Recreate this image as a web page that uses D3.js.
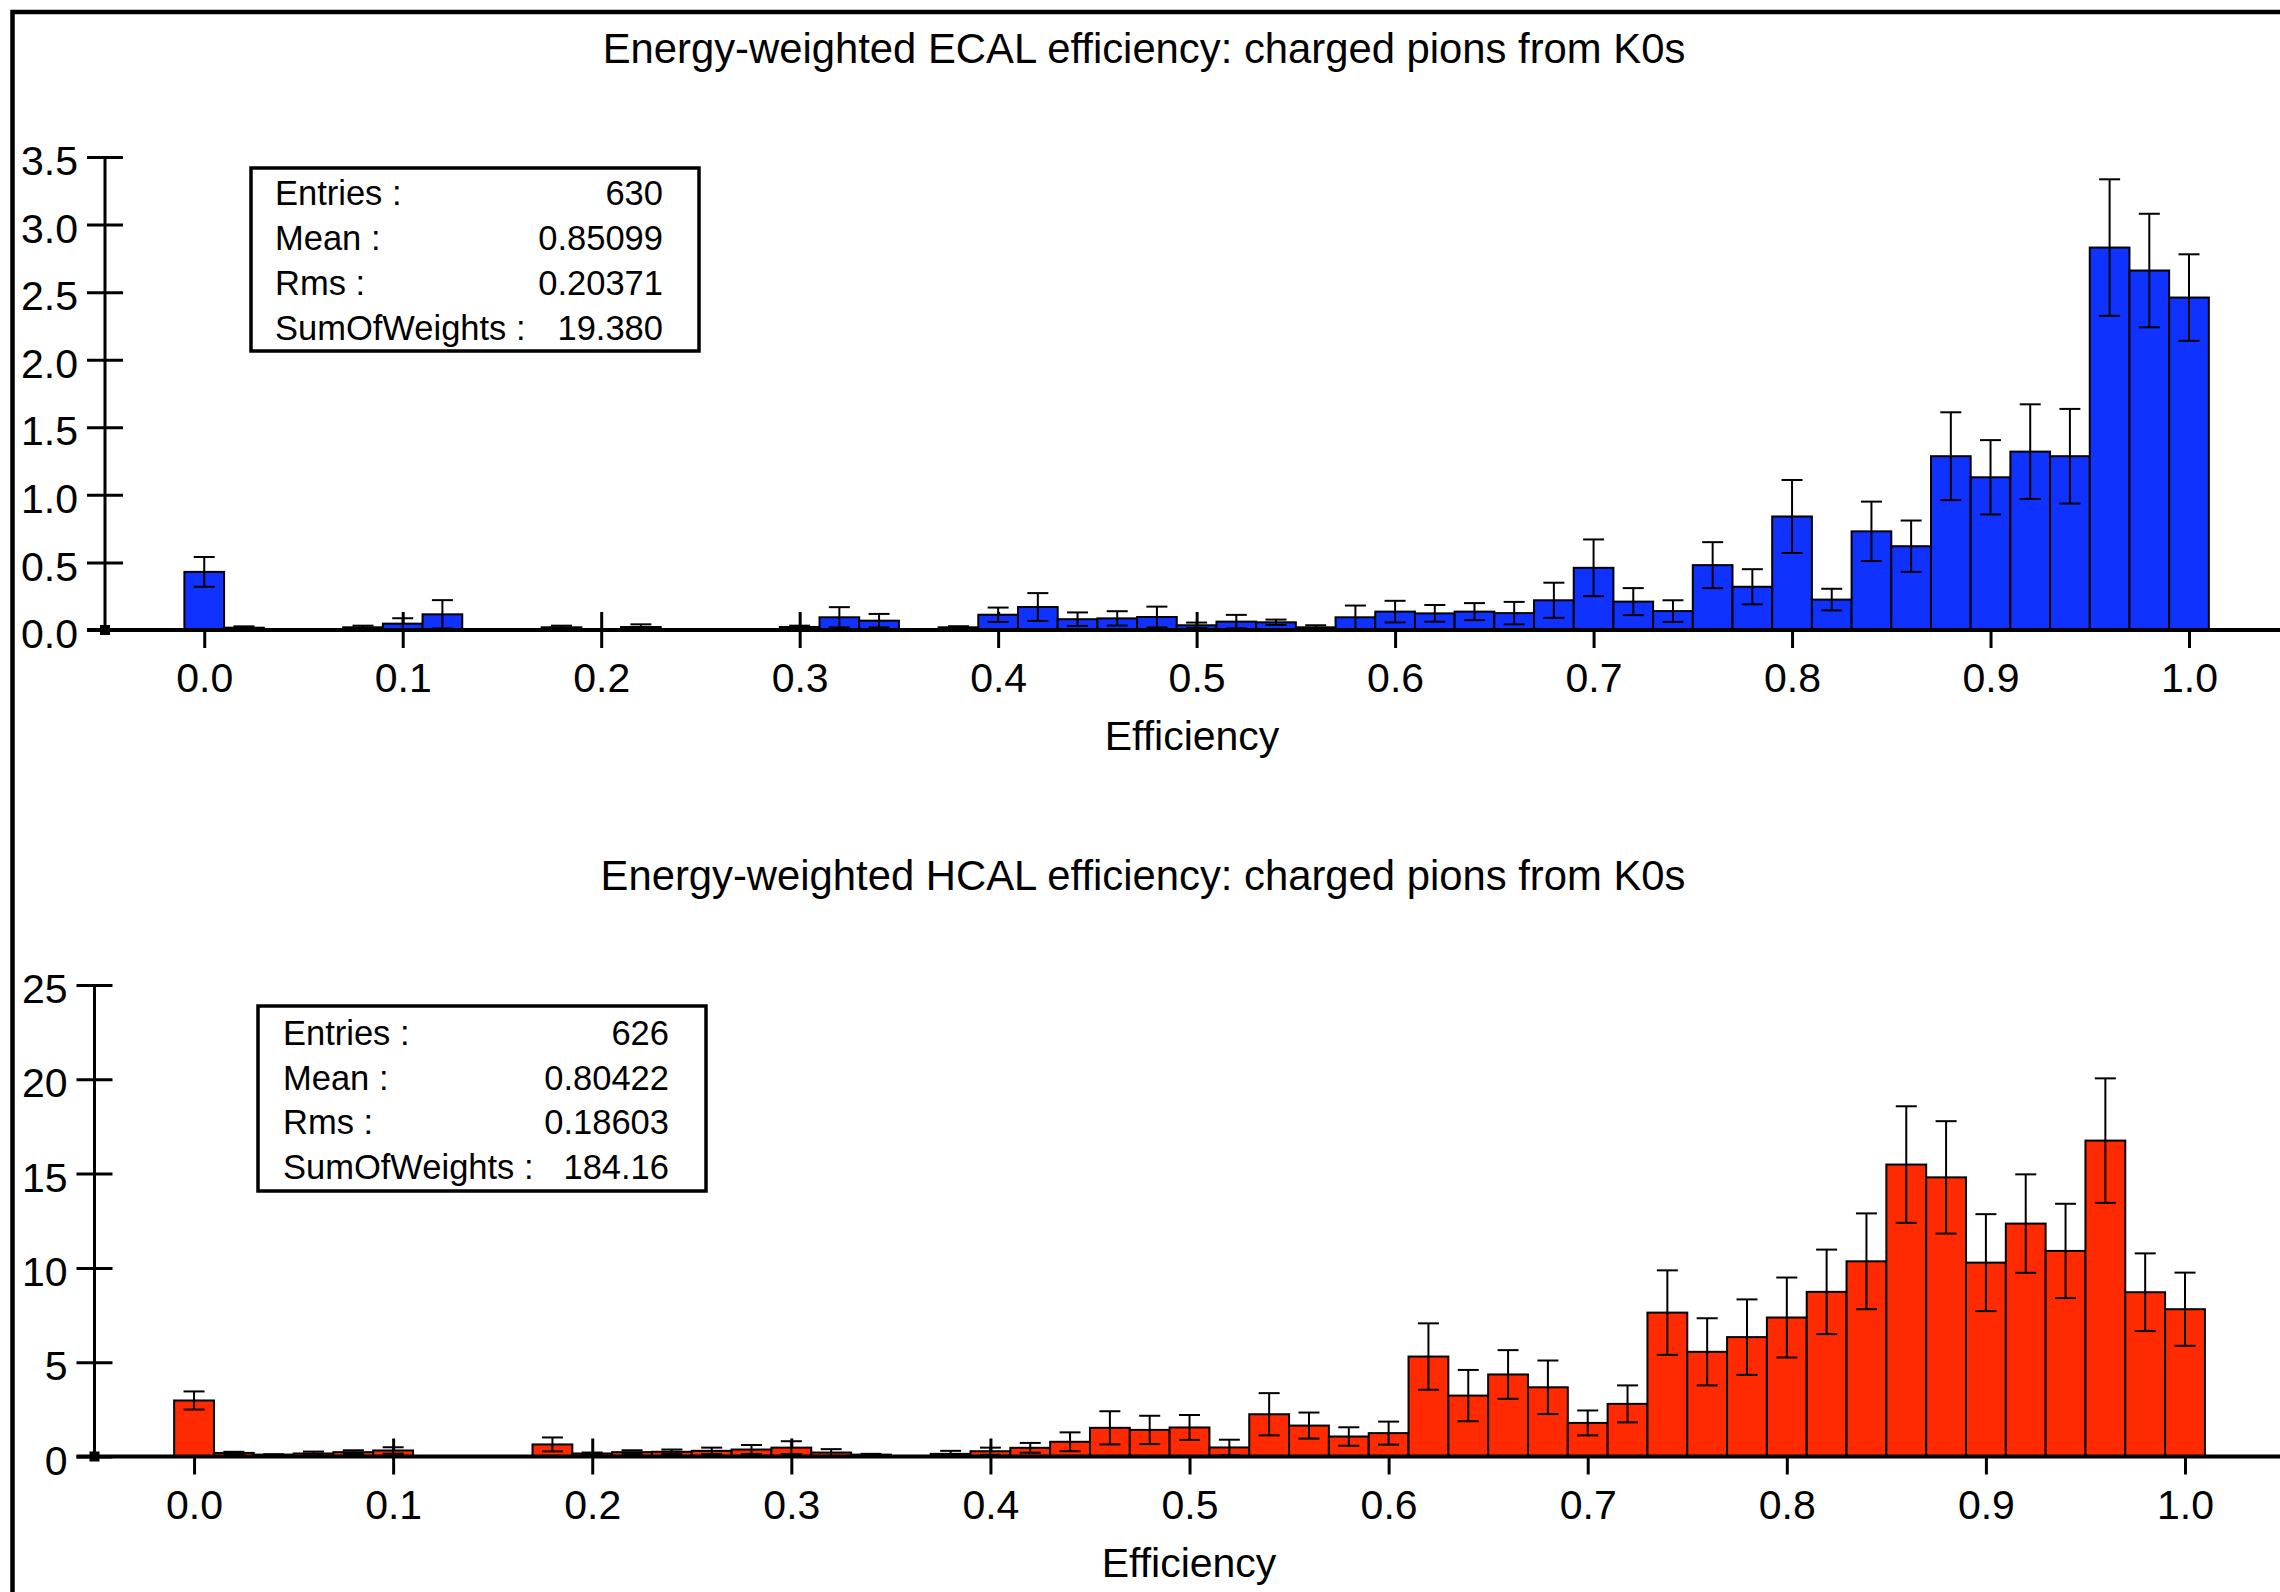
<!DOCTYPE html>
<html>
<head>
<meta charset="utf-8">
<script src="https://d3js.org/d3.v7.min.js"></script>
<style>
body { margin: 0; background: #fff; }
svg { display: block; }
text { font-family: "Liberation Sans", Arial, Helvetica, sans-serif; fill: #000; }
</style>
</head>
<body>
<script>
// histogram bins: 51 bins of width 0.02, centred on 0.00 ... 1.00
var binWidth = 0.02;
var binCenters = d3.range(51).map(function(i) { return +(i * binWidth).toFixed(2); });

// ECAL (top) bin contents and errors
var ecalValues = [0.43, 0.017, 0, 0, 0.02, 0.047, 0.116, 0, 0, 0.02,
                  0, 0.022, 0, 0, 0, 0.022, 0.094, 0.069, 0, 0.02,
                  0.113, 0.17, 0.08, 0.086, 0.096, 0.035, 0.062, 0.057, 0.02, 0.094,
                  0.136, 0.123, 0.136, 0.125, 0.22, 0.46, 0.21, 0.14, 0.48, 0.32,
                  0.84, 0.225, 0.73, 0.62, 1.286, 1.13, 1.32, 1.286, 2.83, 2.66,
                  2.46];
var ecalErrors = [0.11, 0.01, 0, 0, 0.012, 0.04, 0.105, 0, 0, 0.012,
                  0, 0.02, 0, 0, 0, 0.01, 0.075, 0.05, 0, 0.008,
                  0.053, 0.103, 0.05, 0.053, 0.077, 0.02, 0.05, 0.02, 0.015, 0.087,
                  0.08, 0.062, 0.063, 0.083, 0.13, 0.21, 0.10, 0.08, 0.17, 0.13,
                  0.27, 0.08, 0.22, 0.19, 0.325, 0.275, 0.35, 0.35, 0.505, 0.42,
                  0.32];

// HCAL (bottom) bin contents and errors
var hcalValues = [2.97, 0.19, 0.1, 0.16, 0.23, 0.32, 0, 0, 0, 0.64,
                  0.16, 0.23, 0.25, 0.3, 0.37, 0.47, 0.21, 0.1, 0, 0.14,
                  0.28, 0.46, 0.78, 1.52, 1.41, 1.54, 0.48, 2.24, 1.64, 1.06,
                  1.24, 5.3, 3.23, 4.35, 3.67, 1.78, 2.79, 7.63, 5.55, 6.33,
                  7.37, 8.73, 10.35, 15.48, 14.8, 10.28, 12.35, 10.9, 16.75, 8.71,
                  7.81];
var hcalErrors = [0.48, 0.06, 0.02, 0.1, 0.1, 0.17, 0, 0, 0, 0.37,
                  0.05, 0.1, 0.12, 0.17, 0.24, 0.34, 0.18, 0.04, 0, 0.16,
                  0.19, 0.26, 0.5, 0.88, 0.75, 0.66, 0.41, 1.12, 0.69, 0.49,
                  0.61, 1.76, 1.36, 1.29, 1.42, 0.66, 0.98, 2.24, 1.78, 2.0,
                  2.12, 2.24, 2.54, 3.09, 2.98, 2.57, 2.61, 2.5, 3.3, 2.06,
                  1.94];

// ticks
var xTickValues = [0, 0.1, 0.2, 0.3, 0.4, 0.5, 0.6, 0.7, 0.8, 0.9, 1.0];
var ecalYTicks = [0, 0.5, 1.0, 1.5, 2.0, 2.5, 3.0, 3.5];
var hcalYTicks = [0, 5, 10, 15, 20, 25];

// stats boxes
var ecalStatLabels = ["Entries :", "Mean :", "Rms :", "SumOfWeights :"];
var ecalStatValues = ["630", "0.85099", "0.20371", "19.380"];
var hcalStatLabels = ["Entries :", "Mean :", "Rms :", "SumOfWeights :"];
var hcalStatValues = ["626", "0.80422", "0.18603", "184.16"];

var W = 2280, H = 1592;
var svg = d3.select("body").append("svg")
    .attr("width", W)
    .attr("height", H);

svg.append("rect").attr("width", W).attr("height", H).attr("fill", "#fff");

// outer frame (top and left edges visible)
svg.append("path")
    .attr("d", "M12.5," + (H + 10) + " L12.5,12 L" + (W + 10) + ",12")
    .attr("fill", "none")
    .attr("stroke", "#000")
    .attr("stroke-width", 4.5);

function drawPanel(p) {
  var x = d3.scaleLinear().domain([-0.05, 1.0]).range([p.left, p.right]);
  var y = d3.scaleLinear().domain([0, p.yMax]).range([p.bottom, p.top]);
  var g = svg.append("g");

  // title
  g.append("text")
      .attr("x", p.titleX)
      .attr("y", p.titleY)
      .attr("text-anchor", "middle")
      .style("font-size", "41.8px")
      .text(p.title);

  // x axis ticks (drawn under the bars)
  var xAxis = g.append("g")
      .attr("transform", "translate(0," + p.bottom + ")")
      .call(d3.axisBottom(x).tickValues(xTickValues).tickFormat(d3.format(".1f")).tickSizeOuter(0));
  xAxis.select(".domain").remove();
  xAxis.selectAll(".tick line")
      .attr("y1", -18).attr("y2", 18)
      .attr("stroke", "#000").attr("stroke-width", 3);
  xAxis.selectAll(".tick text")
      .attr("y", 62).attr("dy", 0)
      .style("font-size", "41px")
      .style("font-family", "Liberation Sans, Arial, sans-serif")
      .attr("fill", "#000");

  var data = binCenters.map(function(c, i) {
    return {c: c, v: p.values[i], e: p.errors[i]};
  }).filter(function(d) { return d.v > 0; });

  // bars
  g.selectAll("rect.bar")
      .data(data)
      .enter().append("rect")
      .attr("class", "bar")
      .attr("x", function(d) { return x(d.c - binWidth / 2); })
      .attr("width", function(d) { return x(d.c + binWidth / 2) - x(d.c - binWidth / 2); })
      .attr("y", function(d) { return y(d.v); })
      .attr("height", function(d) { return y(0) - y(d.v); })
      .attr("fill", p.color)
      .attr("stroke", "#000")
      .attr("stroke-width", 2);

  // error bars
  var eb = g.selectAll("g.err")
      .data(data)
      .enter().append("g")
      .attr("class", "err")
      .attr("stroke", "#000")
      .attr("stroke-width", 2);
  eb.append("line")
      .attr("x1", function(d) { return x(d.c); })
      .attr("x2", function(d) { return x(d.c); })
      .attr("y1", function(d) { return y(d.v + d.e); })
      .attr("y2", function(d) { return y(Math.max(0, d.v - d.e)); });
  eb.append("line")
      .attr("x1", function(d) { return x(d.c) - 10.5; })
      .attr("x2", function(d) { return x(d.c) + 10.5; })
      .attr("y1", function(d) { return y(d.v + d.e); })
      .attr("y2", function(d) { return y(d.v + d.e); });
  eb.append("line")
      .attr("x1", function(d) { return x(d.c) - 10.5; })
      .attr("x2", function(d) { return x(d.c) + 10.5; })
      .attr("y1", function(d) { return y(Math.max(0, d.v - d.e)); })
      .attr("y2", function(d) { return y(Math.max(0, d.v - d.e)); });

  // baseline
  g.append("line")
      .attr("x1", x(-0.05) - 18).attr("x2", W + 5)
      .attr("y1", y(0)).attr("y2", y(0))
      .attr("stroke", "#000").attr("stroke-width", 4);

  // y axis
  var yAxis = g.append("g")
      .attr("transform", "translate(" + x(-0.05) + ",0)")
      .call(d3.axisLeft(y).tickValues(p.yTicks).tickFormat(p.yFormat).tickSizeOuter(0));
  yAxis.select(".domain")
      .attr("d", "M0," + y(p.yMax) + "V" + y(0))
      .attr("stroke", "#000").attr("stroke-width", 3);
  yAxis.selectAll(".tick line")
      .attr("x1", -18).attr("x2", 18)
      .attr("stroke", "#000").attr("stroke-width", 3);
  yAxis.selectAll(".tick text")
      .attr("x", -27).attr("dy", "0.43em")
      .style("font-size", "41px")
      .style("font-family", "Liberation Sans, Arial, sans-serif")
      .attr("fill", "#000");

  // small square at origin
  g.append("rect")
      .attr("x", x(-0.05) - 5).attr("y", y(0) - 5)
      .attr("width", 10).attr("height", 10)
      .attr("fill", "#000");

  // x label
  g.append("text")
      .attr("x", p.labelX)
      .attr("y", p.bottom + 120)
      .attr("text-anchor", "middle")
      .style("font-size", "41px")
      .text("Efficiency");

  // stats box
  var sb = p.stats;
  g.append("rect")
      .attr("x", sb.x).attr("y", sb.y)
      .attr("width", sb.w).attr("height", sb.h)
      .attr("fill", "#fff")
      .attr("stroke", "#000").attr("stroke-width", 3.5);
  sb.labels.forEach(function(l, i) {
    g.append("text")
        .attr("x", sb.labelX)
        .attr("y", sb.firstBase + i * sb.step)
        .style("font-size", "34.5px")
        .text(l);
    g.append("text")
        .attr("x", sb.valueX)
        .attr("y", sb.firstBase + i * sb.step)
        .attr("text-anchor", "end")
        .style("font-size", "34.5px")
        .text(sb.values[i]);
  });
}

drawPanel({
  title: "Energy-weighted ECAL efficiency: charged pions from K0s",
  titleX: 1144, titleY: 63,
  left: 105, right: 2189, top: 157, bottom: 630,
  yMax: 3.5, yTicks: ecalYTicks, yFormat: d3.format(".1f"),
  values: ecalValues, errors: ecalErrors,
  color: "#1032ff",
  labelX: 1192,
  stats: {x: 251, y: 168, w: 448, h: 183, labelX: 275, valueX: 663,
          firstBase: 205, step: 45, labels: ecalStatLabels, values: ecalStatValues}
});

drawPanel({
  title: "Energy-weighted HCAL efficiency: charged pions from K0s",
  titleX: 1143, titleY: 890,
  left: 94.5, right: 2185, top: 985, bottom: 1456.5,
  yMax: 25, yTicks: hcalYTicks, yFormat: d3.format("d"),
  values: hcalValues, errors: hcalErrors,
  color: "#ff2a00",
  labelX: 1189,
  stats: {x: 258, y: 1006, w: 448, h: 185, labelX: 283, valueX: 669,
          firstBase: 1045, step: 44.5, labels: hcalStatLabels, values: hcalStatValues}
});
</script>
</body>
</html>
